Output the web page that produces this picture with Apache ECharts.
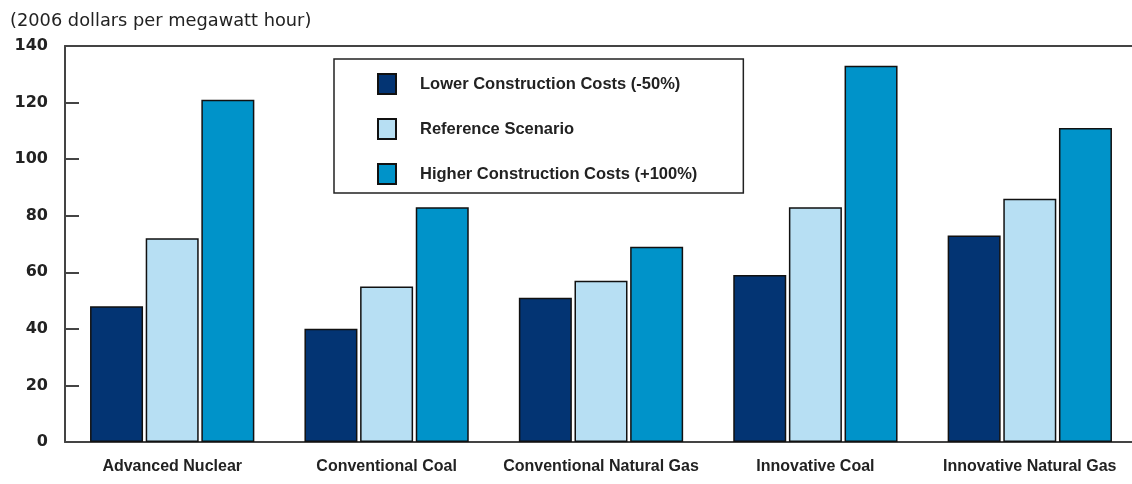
<!DOCTYPE html>
<html>
<head>
<meta charset="utf-8">
<script src="https://cdn.jsdelivr.net/npm/echarts@6/dist/echarts.min.js"></script>
<style>
  html, body { margin: 0; padding: 0; background: #ffffff; overflow: hidden; }
  /* plot area runs slightly past the right edge of the window */
  #chart { width: 1140px; height: 484px; }
</style>
</head>
<body>
<div id="chart"></div>
<script>
// Levelized cost by technology, three construction-cost scenarios
const categories = ['Advanced Nuclear', 'Conventional Coal', 'Conventional Natural Gas', 'Innovative Coal', 'Innovative Natural Gas'];
const seriesNames = ['Lower Construction Costs (-50%)', 'Reference Scenario', 'Higher Construction Costs (+100%)'];
const lowerCosts = [48, 40, 51, 59, 73];
const referenceCosts = [72, 55, 57, 83, 86];
const higherCosts = [121, 83, 69, 133, 111];
const yTicks = { min: 0, max: 140, interval: 20 };
const unitLabel = '(2006 dollars per megawatt hour)';

const colors = ['#033473', '#b7dff3', '#0093c9'];
const values = [lowerCosts, referenceCosts, higherCosts];
const labelFont = '"Liberation Sans", Arial, sans-serif';

const chart = echarts.init(document.getElementById('chart'), null, { renderer: 'canvas' });

chart.setOption({
  backgroundColor: '#ffffff',
  animation: false,
  title: {
    text: unitLabel,
    left: 5,
    top: 7,
    textStyle: {
      fontFamily: '"DejaVu Sans", sans-serif',
      fontSize: 17.8,
      fontWeight: 'normal',
      color: '#222'
    }
  },
  grid: { left: 65, top: 46, right: 3, bottom: 42 },
  legend: {
    orient: 'vertical',
    left: 334,
    top: 59,
    padding: [14, 46, 8, 43],
    itemGap: 23,
    itemWidth: 18,
    itemHeight: 20,
    icon: 'rect',
    borderColor: '#222',
    borderWidth: 1.5,
    backgroundColor: '#ffffff',
    textStyle: {
      fontFamily: labelFont,
      fontSize: 16.5,
      fontWeight: 'bold',
      color: '#222',
      padding: [0, 0, 0, 19]
    },
    data: seriesNames
  },
  xAxis: [
    {
      type: 'category',
      data: categories,
      axisLine: { show: true, lineStyle: { color: '#444', width: 2 } },
      axisTick: { show: false },
      axisLabel: {
        margin: 17,
        fontFamily: labelFont,
        fontSize: 16,
        fontWeight: 'bold',
        color: '#222',
        interval: 0
      }
    },
    {
      type: 'category',
      position: 'top',
      data: categories,
      axisLine: { show: true, lineStyle: { color: '#444', width: 2 } },
      axisTick: { show: false },
      axisLabel: { show: false }
    }
  ],
  yAxis: {
    type: 'value',
    min: yTicks.min,
    max: yTicks.max,
    interval: yTicks.interval,
    axisLine: { show: true, lineStyle: { color: '#444', width: 2 } },
    axisTick: { show: true, inside: true, length: 14, lineStyle: { color: '#444', width: 2 } },
    splitLine: { show: false },
    axisLabel: {
      margin: 17,
      fontFamily: '"DejaVu Sans", sans-serif',
      fontSize: 16,
      fontWeight: 'bold',
      color: '#222'
    }
  },
  series: seriesNames.map((name, i) => ({
    name: name,
    type: 'bar',
    data: values[i],
    barWidth: 53,
    barGap: '5%',
    itemStyle: {
      color: colors[i],
      borderColor: '#111',
      borderWidth: 1.5
    }
  }))
});
</script>
</body>
</html>
